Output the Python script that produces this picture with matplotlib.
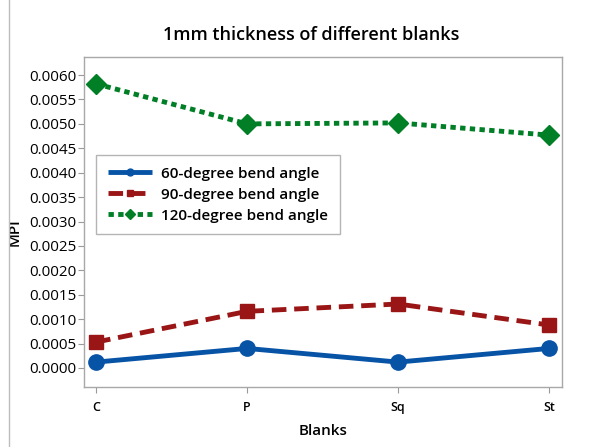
import numpy as np
import matplotlib.pyplot as plt
from matplotlib.lines import Line2D

plt.rcParams['font.family'] = ['Open Sans', 'DejaVu Sans']

blanks = ["C", "P", "Sq", "St"]
mpi_60 = [0.00012, 0.00040, 0.00012, 0.00040]
mpi_90 = [0.00053, 0.00116, 0.00131, 0.00088]
mpi_120 = [0.00582, 0.00500, 0.00502, 0.00477]
yticks = np.arange(0, 0.0061, 0.0005)

fig = plt.figure(figsize=(6.06, 4.47), dpi=100)
ax = fig.add_axes([84 / 606, 1 - 387 / 447, (562 - 84) / 606, (387 - 57) / 447])

x = np.arange(len(blanks))
ax.plot(x, mpi_60, color="#0753A6", lw=3.5, marker="o", ms=11,
        solid_capstyle="butt", label="60-degree bend angle")
ax.plot(x, mpi_90, color="#9A1515", lw=3.5, marker="s", ms=10.5,
        dashes=(3, 1.6), label="90-degree bend angle")
ax.plot(x, mpi_120, color="#007F26", lw=3.5, marker="D", ms=10.5,
        dashes=(1.1, 0.9), label="120-degree bend angle")

ax.set_xlim(-0.08, 3.086)
ax.set_ylim(-0.00039, 0.00637)
ax.set_xticks(x)
ax.set_xticklabels(blanks, fontsize=9, fontweight="semibold")
ax.set_yticks(yticks)
ax.set_yticklabels([f"{v:.4f}" for v in yticks], fontsize=11)
ax.tick_params(direction="out", color="#9A9A9A", length=4, width=0.8)
ax.tick_params(axis="y", pad=1.5)
ax.tick_params(axis="x", pad=6)
for s in ax.spines.values():
    s.set_color("#A8A8A8")
    s.set_linewidth(1.0)

ax.set_xlabel("Blanks", fontsize=11, fontweight="semibold", labelpad=7)
ax.set_ylabel("MPI", fontsize=11, fontweight="semibold")
ax.yaxis.set_label_coords(-0.13, 0.47)

fig.text(311 / 606, 1 - 35 / 447, "1mm thickness of different blanks",
         fontsize=13, fontweight="semibold", ha="center", va="center")

leg = ax.legend(loc="upper left", bbox_to_anchor=(0.01, 0.725),
                prop={"size": 11, "weight": "semibold"},
                handlelength=2.9, handletextpad=0.6, labelspacing=0.45,
                borderpad=0.75, markerscale=0.45, fancybox=False,
                framealpha=1, edgecolor="#B4B4B4")
leg.get_frame().set_linewidth(1.0)

# window border on the left
fig.add_artist(Line2D([9 / 606, 9 / 606], [0, 1], color="#BDBDBD", lw=1.0))

fig.savefig("out.png", dpi=100)
